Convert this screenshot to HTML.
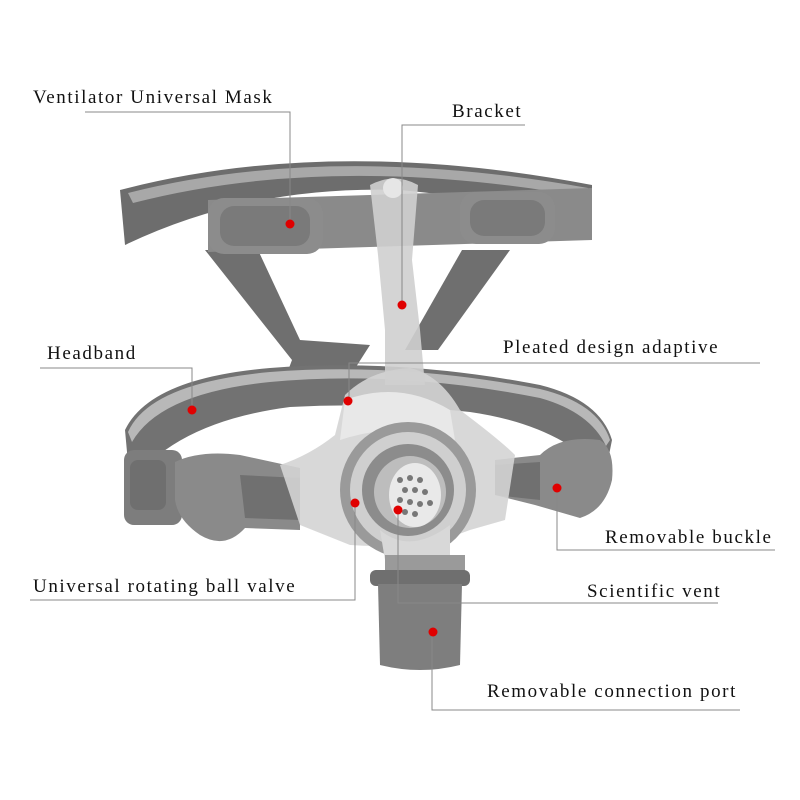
<!DOCTYPE html>
<html><head><meta charset="utf-8"><style>
html,body{margin:0;padding:0;background:#fff;width:800px;height:800px;overflow:hidden}
svg{display:block}
text{font-family:"Liberation Serif",serif;font-size:19px;fill:#111;letter-spacing:1.6px}
</style></head><body>
<svg width="800" height="800" viewBox="0 0 800 800">
<!-- back of top strap -->
<path d="M120,190 Q330,135 592,185 L592,240 Q560,205 400,190 Q250,185 125,245 Z" fill="#6d6d6d"/>
<path d="M128,193 Q330,142 588,188 L585,197 Q330,152 133,203 Z" fill="#a8a8a8"/>
<!-- Y legs -->
<path d="M205,250 L258,250 L300,340 L370,345 L340,392 L280,392 L292,360 Z" fill="#6f6f6f"/>
<path d="M462,250 L510,250 L438,350 L405,350 Z" fill="#6f6f6f"/>
<!-- lower band -->
<path d="M125,430 Q150,378 270,368 Q400,358 540,385 Q600,400 612,440 L605,475 Q560,425 470,412 Q380,402 290,407 Q175,422 130,485 Z" fill="#727272"/>
<path d="M128,432 Q150,383 270,372 Q400,362 540,389 Q598,403 610,440 L606,446 Q590,412 540,398 Q400,370 270,382 Q160,393 132,442 Z" fill="#b8b8b8"/>
<!-- front top strap -->
<path d="M208,200 L592,188 L592,240 L208,252 Z" fill="#8a8a8a"/>
<rect x="208" y="198" width="115" height="56" rx="16" fill="#8c8c8c"/>
<rect x="220" y="206" width="90" height="40" rx="14" fill="#7a7a7a"/>
<rect x="460" y="192" width="95" height="52" rx="16" fill="#8c8c8c"/>
<rect x="470" y="200" width="75" height="36" rx="14" fill="#7a7a7a"/>
<!-- left end / buckle -->
<rect x="124" y="450" width="58" height="75" rx="10" fill="#7d7d7d"/>
<rect x="130" y="460" width="36" height="50" rx="8" fill="#6f6f6f"/>
<path d="M175,462 Q200,450 240,455 L300,468 L300,530 L245,528 Q225,550 200,535 Q178,520 175,500 Z" fill="#8a8a8a"/>
<path d="M240,475 L300,478 L300,520 L245,518 Z" fill="#707070"/>
<!-- right buckle -->
<path d="M495,460 L540,455 Q560,435 600,440 Q615,450 612,480 Q605,510 580,518 L535,505 L495,495 Z" fill="#8a8a8a"/>
<path d="M495,465 L540,462 L540,500 L495,495 Z" fill="#707070"/>
<!-- mask shell -->
<path d="M345,395 Q370,370 410,368 Q440,375 460,410 Q500,440 515,455 L505,520 L470,530 Q420,550 350,545 L300,525 L280,465 Q310,455 335,435 Z" fill="#d4d4d4" opacity="0.9"/>
<path d="M345,400 Q400,380 450,410 L455,440 Q400,420 340,440 Z" fill="#e8e8e8"/>
<!-- bracket stem -->
<path d="M370,185 Q395,172 418,185 L412,260 L420,330 L425,385 L385,385 L385,330 L378,255 Z" fill="#cfcfcf" opacity="0.9"/>
<circle cx="393" cy="188" r="10" fill="#e6e6e6"/>
<!-- ball valve -->
<circle cx="408" cy="490" r="68" fill="#9a9a9a"/>
<circle cx="408" cy="490" r="58" fill="#cfcfcf"/>
<circle cx="408" cy="490" r="46" fill="#8c8c8c"/>
<circle cx="410" cy="492" r="36" fill="#bdbdbd"/>
<ellipse cx="415" cy="495" rx="26" ry="32" fill="#e9e9e9"/>
<g fill="#777">
<circle cx="400" cy="480" r="3"/><circle cx="410" cy="478" r="3"/><circle cx="420" cy="480" r="3"/><circle cx="405" cy="490" r="3"/><circle cx="415" cy="490" r="3"/><circle cx="425" cy="492" r="3"/><circle cx="400" cy="500" r="3"/><circle cx="410" cy="502" r="3"/><circle cx="420" cy="504" r="3"/><circle cx="430" cy="503" r="3"/><circle cx="415" cy="514" r="3"/><circle cx="405" cy="512" r="3"/>
</g>
<path d="M380,530 Q410,555 450,525 L450,560 L385,560 Z" fill="#d8d8d8"/>
<!-- port -->
<rect x="385" y="555" width="80" height="20" fill="#9a9a9a"/>
<rect x="370" y="570" width="100" height="16" rx="6" fill="#6f6f6f"/>
<path d="M378,584 L462,584 L460,665 Q420,675 380,665 Z" fill="#7e7e7e"/>
<!-- leader lines -->
<g stroke="#888" stroke-width="1" fill="none">
<polyline points="85,112 290,112 290,225"/>
<polyline points="525,125 402,125 402,305"/>
<polyline points="40,368 192,368 192,410"/>
<polyline points="760,363 349,363 349,400"/>
<polyline points="775,550 557,550 557,488"/>
<polyline points="30,600 355,600 355,503"/>
<polyline points="718,603 398,603 398,510"/>
<polyline points="740,710 432,710 432,632"/>
</g>
<g fill="#e00000">
<circle cx="290" cy="224" r="4.5"/><circle cx="402" cy="305" r="4.5"/><circle cx="192" cy="410" r="4.5"/><circle cx="348" cy="401" r="4.5"/><circle cx="557" cy="488" r="4.5"/><circle cx="355" cy="503" r="4.5"/><circle cx="398" cy="510" r="4.5"/><circle cx="433" cy="632" r="4.5"/>
</g>
<text x="33" y="103">Ventilator Universal Mask</text>
<text x="452" y="117">Bracket</text>
<text x="47" y="359">Headband</text>
<text x="503" y="353">Pleated design adaptive</text>
<text x="605" y="543">Removable buckle</text>
<text x="33" y="592">Universal rotating ball valve</text>
<text x="587" y="597">Scientific vent</text>
<text x="487" y="697">Removable connection port</text>
</svg>
</body></html>
